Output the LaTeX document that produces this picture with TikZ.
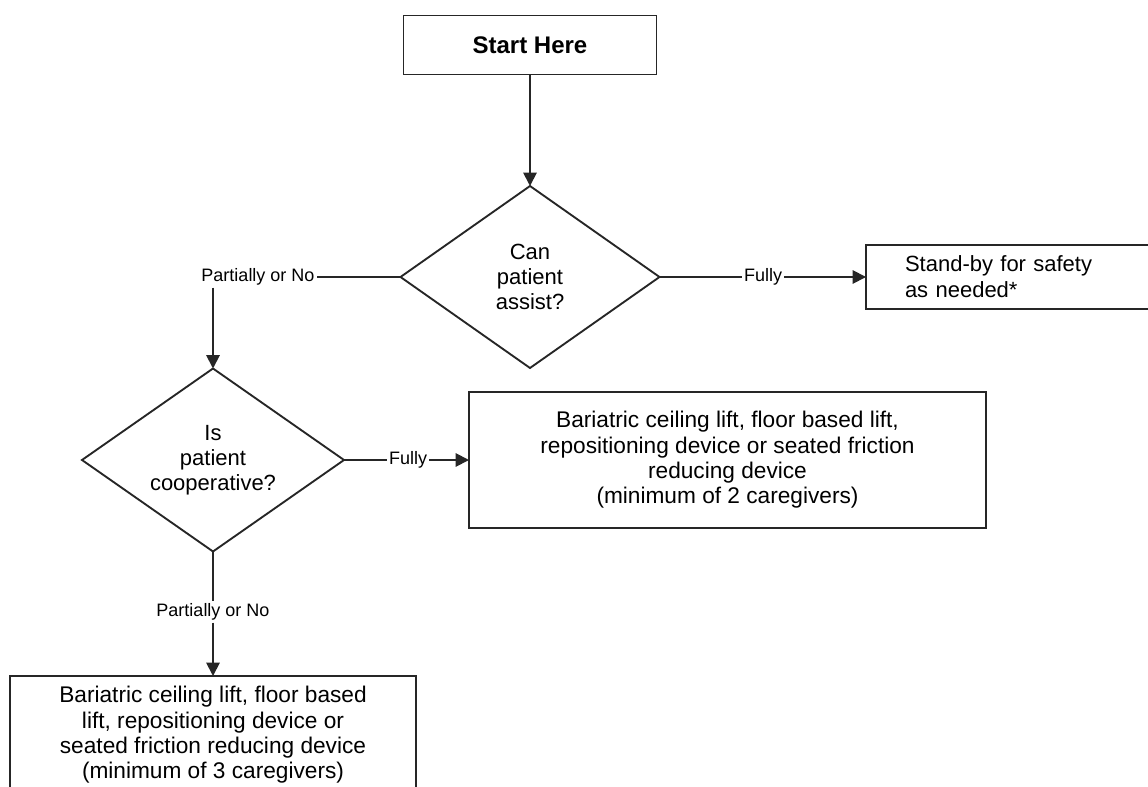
\documentclass[tikz,border=0pt]{standalone}
\usepackage{fontspec}
\setmainfont{Liberation Sans}
\usetikzlibrary{shapes.geometric,arrows.meta}
\begin{document}
\begin{tikzpicture}[x=0.75pt,y=-0.75pt,
  line/.style={line width=1.4pt, draw=black!85},
  arr/.style={line, -{Triangle[length=10pt,width=10pt]}},
  box/.style={rectangle, draw=black!85, line width=1.4pt, outer sep=0pt, inner sep=0pt,
    align=center, font=\fontsize{17}{19}\selectfont},
  dia/.style={diamond, aspect=1.4, draw=black!85, line width=1.4pt, outer sep=0pt, inner sep=0pt,
    align=center, font=\fontsize{16.5}{18.75}\selectfont},
  lbl/.style={inner sep=1.5pt, font=\fontsize{13.5}{15}\selectfont}]
\useasboundingbox (0,0) rectangle (1148,787);
\fill[white] (0,0) rectangle (1148,787);
\clip (0,0) rectangle (1148,787);

\node[box, font=\fontsize{18}{20}\selectfont\bfseries, minimum width=189.75pt, minimum height=44.25pt] (start) at (530,45) {Start Here};
\node[dia, minimum width=194.25pt, minimum height=136.5pt] (d1) at (530,277) {Can\\patient\\assist?};
\node[dia, minimum width=196.5pt, minimum height=137.25pt] (d2) at (213,460) {Is\\patient\\cooperative?};
\node[box, font=\fontsize{16.5}{19.5}\selectfont, anchor=west, align=left, text width=210pt, inner xsep=29.25pt, minimum height=48pt] (sb) at (866,277) {Stand-by for safety\\as needed*};
\node[box, minimum width=387.75pt, minimum height=102pt] (b2) at (727.5,460) {Bariatric ceiling lift, floor based lift,\\repositioning device or seated friction\\reducing device\\(minimum of 2 caregivers)};
\node[box, minimum width=304.5pt, minimum height=88.5pt] (b3) at (213,735) {Bariatric ceiling lift, floor based\\lift, repositioning device or\\seated friction reducing device\\(minimum of 3 caregivers)};

\node[lbl] (l1) at (258,277) {Partially or No};
\node[lbl] (l2) at (763,277) {Fully};
\node[lbl] (l3) at (408,460) {Fully};
\node[lbl] (l4) at (213,612) {Partially or No};

\draw[arr] (start.south) -- (d1.north);
\draw[line] (d1.west) -- (l1.east);
\draw[arr] (d2.north |- l1.south) -- (d2.north);
\draw[line] (d1.east) -- (l2.west);
\draw[arr] (l2.east) -- (sb.west);
\draw[line] (d2.east) -- (l3.west);
\draw[arr] (l3.east) -- (b2.west);
\draw[line] (d2.south) -- (l4.north);
\draw[arr] (l4.south) -- (b3.north);
\end{tikzpicture}
\end{document}
